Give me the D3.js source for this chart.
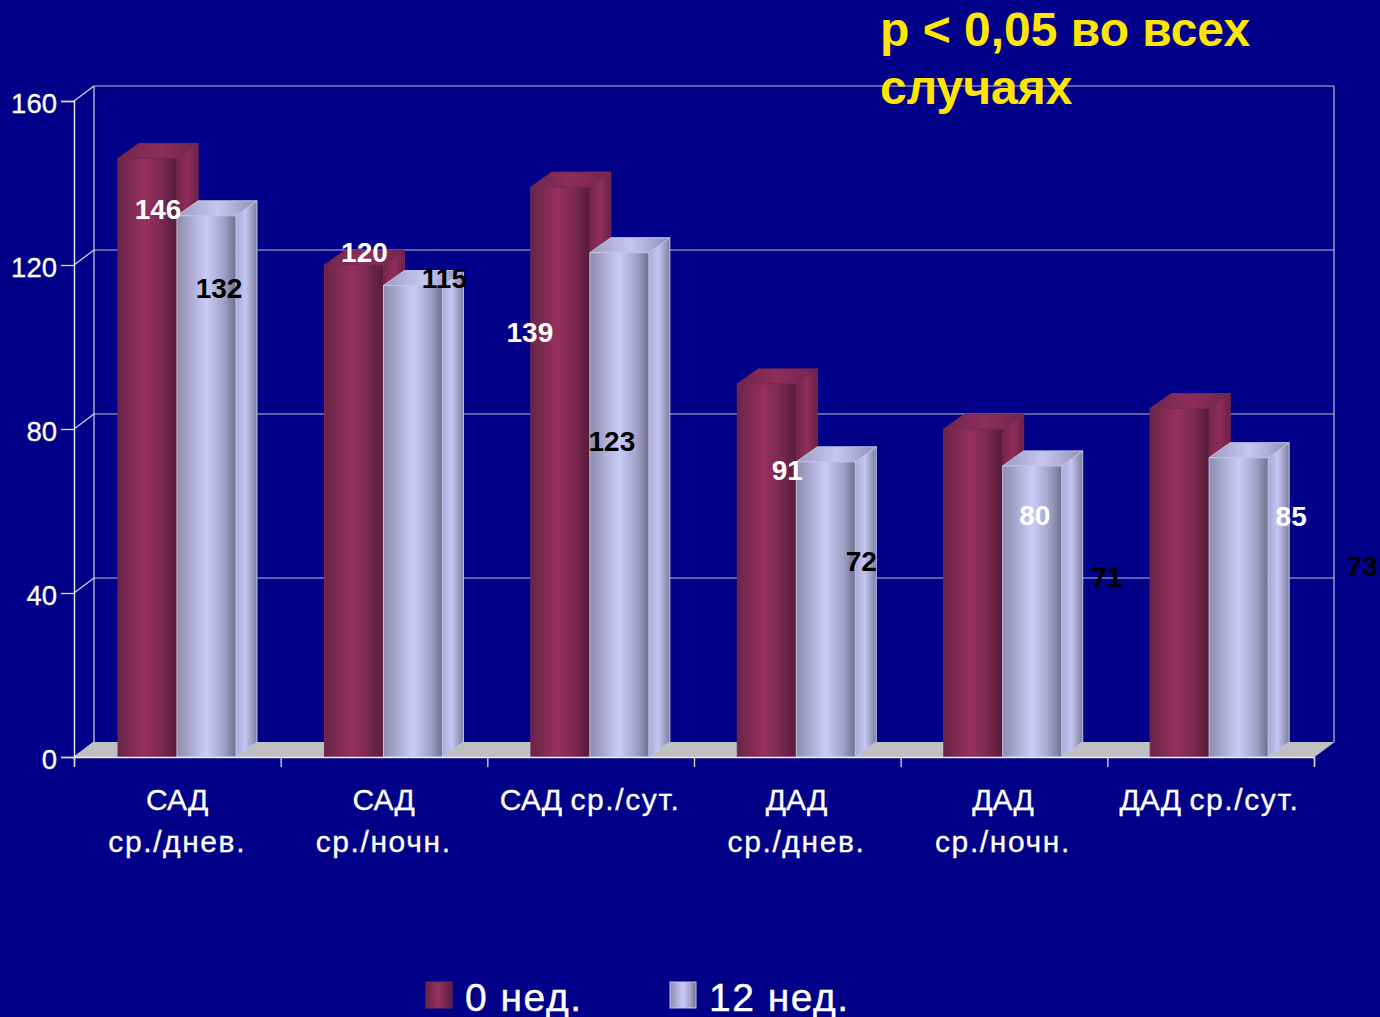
<!DOCTYPE html>
<html>
<head>
<meta charset="utf-8">
<script src="https://cdn.jsdelivr.net/npm/d3@7/dist/d3.min.js"></script>
<style>
  html, body { margin: 0; padding: 0; background: #000088; overflow: hidden; }
  svg { display: block; font-family: "Liberation Sans", Arial, sans-serif; }
</style>
</head>
<body>
<svg id="chart" width="1380" height="1017"></svg>
<script>
// Blood pressure readings at the start of therapy and after 12 weeks
const categories = [
  ["САД", "ср./днев."],
  ["САД", "ср./ночн."],
  ["САД ср./сут."],
  ["ДАД", "ср./днев."],
  ["ДАД", "ср./ночн."],
  ["ДАД ср./сут."]
];
const seriesNames = ["0 нед.", "12 нед."];
const week0 = [146, 120, 139, 91, 80, 85];
const week12 = [132, 115, 123, 72, 71, 73];
const yTicks = [0, 40, 80, 120, 160];
const noteLines = ["р < 0,05 во всех", "случаях"];

// Data labels sit away from their bars: offsets from the bar's top centre
const week0LabelShift = [[10.5, 51], [10.5, -13], [-30.5, 145], [20.5, 86.5], [61.5, 85.5], [111.5, 107.5]];
const week12LabelShift = [[12.5, 72.5], [31.5, -7.5], [-7.5, 188], [35.5, 99.5], [74.5, 111.5], [123.5, 108.5]];

const plotLeft = 74, plotRight = 1314, plotBase = 757, plotTop = 101;
const depthX = 20, depthY = 15;
const barDepthX = 21;
const barWidth = 59;

const svg = d3.select("#chart");
const defs = svg.append("defs");

function hGradient(id, stops) {
  const g = defs.append("linearGradient").attr("id", id)
    .attr("x1", "0%").attr("x2", "100%").attr("y1", "0%").attr("y2", "0%");
  stops.forEach(([o, c]) => g.append("stop").attr("offset", o).attr("stop-color", c));
}
hGradient("maroonFront", [["0", "#672546"], ["0.45", "#97305f"], ["0.72", "#7c2952"], ["1", "#561b3b"]]);
hGradient("maroonSide", [["0", "#742549"], ["0.5", "#902d5b"], ["1", "#6b2047"]]);
hGradient("maroonTop", [["0", "#6f254b"], ["0.5", "#8e2e5b"], ["1", "#70244b"]]);
hGradient("silverFront", [["0", "#8c8cac"], ["0.5", "#cbcbfa"], ["0.8", "#a0a0c6"], ["1", "#6f6f8c"]]);
hGradient("silverSide", [["0", "#a9a9d6"], ["0.45", "#c6c6f4"], ["1", "#7e7e9e"]]);
hGradient("silverTop", [["0", "#9c9cc0"], ["0.5", "#c6c6f2"], ["1", "#9090b2"]]);

const x = d3.scaleBand().domain(d3.range(categories.length)).range([plotLeft, plotLeft + 1238.6]);
const xInner = d3.scaleBand().domain([0, 1]).range([44, 44 + 2 * barWidth]);
const y = d3.scaleLinear().domain([0, 160]).range([plotBase, plotTop]);

const wallColor = "#bcbccc";

// Floor of the 3D box
svg.append("path")
  .attr("d", `M${plotLeft},${plotBase}L${plotLeft + depthX},${plotBase - depthY}L${plotRight + depthX},${plotBase - depthY}L${plotRight},${plotBase}Z`)
  .attr("fill", "#c0c0c0");

const wall = svg.append("g").attr("fill", "none");

// Back wall gridlines and their diagonal return on the side wall
yTicks.forEach(t => {
  if (t > 0) {
    wall.append("line").attr("x1", plotLeft + depthX).attr("x2", plotRight + depthX)
      .attr("y1", y(t) - depthY).attr("y2", y(t) - depthY)
      .attr("stroke", wallColor).attr("stroke-width", 1.2);
  }
  wall.append("line").attr("x1", plotLeft).attr("x2", plotLeft + depthX)
    .attr("y1", y(t)).attr("y2", y(t) - depthY)
    .attr("stroke", t > 0 ? "#d8d8e4" : "#c0c0c0").attr("stroke-width", 1.2);
});
wall.append("line").attr("x1", plotLeft + depthX).attr("x2", plotLeft + depthX)
  .attr("y1", plotTop - depthY).attr("y2", plotBase - depthY).attr("stroke", "#d8d8e4").attr("stroke-width", 1.2);
wall.append("line").attr("x1", plotRight + depthX).attr("x2", plotRight + depthX)
  .attr("y1", plotTop - depthY).attr("y2", plotBase - depthY).attr("stroke", wallColor).attr("stroke-width", 1.2);
wall.append("line").attr("x1", plotRight).attr("x2", plotRight + depthX)
  .attr("y1", plotBase).attr("y2", plotBase - depthY).attr("stroke", "#c0c0c0");

// Bars
function drawBar(group, i, s, value, palette, edge) {
  const x0 = x(i) + xInner(s), x1 = x0 + barWidth;
  const yt = y(value);
  const g = group.append("g").attr("stroke", edge).attr("stroke-width", 1);
  g.append("path")
    .attr("d", `M${x1},${yt}L${x1 + barDepthX},${yt - depthY}L${x1 + barDepthX},${plotBase - depthY}L${x1},${plotBase}Z`)
    .attr("fill", `url(#${palette}Side)`);
  g.append("path")
    .attr("d", `M${x0},${yt}L${x0 + barDepthX},${yt - depthY}L${x1 + barDepthX},${yt - depthY}L${x1},${yt}Z`)
    .attr("fill", `url(#${palette}Top)`);
  g.append("rect").attr("x", x0).attr("y", yt).attr("width", barWidth).attr("height", plotBase - yt)
    .attr("fill", `url(#${palette}Front)`);
}
const bars = svg.append("g");
categories.forEach((c, i) => {
  drawBar(bars, i, 0, week0[i], "maroon", "#7a2a52");
  drawBar(bars, i, 1, week12[i], "silver", "#c4c4ea");
});

// Axes
const yAxis = d3.axisLeft(y).tickValues(yTicks).tickSize(13).tickPadding(4);
const gy = svg.append("g").attr("transform", `translate(${plotLeft},0)`).call(yAxis);
const xAxis = d3.axisBottom(d3.scaleLinear().domain([0, categories.length]).range([plotLeft, plotRight]))
  .ticks(categories.length).tickSize(10).tickFormat("");
const gx = svg.append("g").attr("transform", `translate(0,${plotBase})`).call(xAxis);
[gy, gx].forEach(g => {
  g.selectAll("path").attr("stroke", "#ececf2").attr("stroke-width", 1.4);
  g.selectAll("line").attr("stroke", "#dcdce6").attr("stroke-width", 1.3);
});
gy.selectAll("text").attr("fill", "#fff").attr("font-size", 27.5).attr("dy", "0.42em")
  .attr("stroke", "#fff").attr("stroke-width", 0.3)
  .attr("font-family", "'Liberation Sans', Arial, sans-serif");

// Category labels: capitals are set tight, lowercase runs slightly spaced
categories.forEach((lines, i) => {
  const t = svg.append("text").attr("text-anchor", "middle").attr("fill", "#fff")
    .attr("stroke", "#fff").attr("stroke-width", 0.3).attr("font-size", 30);
  lines.forEach((line, k) => {
    const row = t.append("tspan").attr("x", x(i) + x.bandwidth() / 2).attr("y", 810 + k * 42);
    line.match(/[А-Я]+ ?|[^А-Я]+/g).forEach(part => {
      row.append("tspan").attr("letter-spacing", /[А-Я]/.test(part) ? 0 : 1.6).text(part);
    });
  });
});

// Data labels
function drawLabels(values, shifts, s, color) {
  svg.append("g").selectAll("text").data(values).join("text")
    .attr("x", (d, i) => x(i) + xInner(s) + barWidth / 2 + shifts[i][0])
    .attr("y", (d, i) => y(d) + shifts[i][1] + 10)
    .attr("text-anchor", "middle").attr("font-weight", "bold").attr("font-size", 28)
    .attr("fill", color).text(d => d);
}
drawLabels(week0, week0LabelShift, 0, "#fff");
drawLabels(week12, week12LabelShift, 1, "#000");

// Significance note
svg.append("g").selectAll("text").data(noteLines).join("text")
  .attr("x", 880).attr("y", (d, i) => 46 + i * 58)
  .attr("font-size", 48).attr("font-weight", "bold").attr("fill", "#ffe600").text(d => d);

// Legend
const legendX = [426, 670];
const legend = svg.append("g").selectAll("g").data(seriesNames).join("g")
  .attr("transform", (d, i) => `translate(${legendX[i]},982)`);
legend.append("rect").attr("width", 26).attr("height", 26)
  .attr("fill", (d, i) => `url(#${i ? "silver" : "maroon"}Front)`)
  .attr("stroke", (d, i) => i ? "#c4c4ea" : "#7a2a52");
legend.append("text").attr("x", 39).attr("y", 29).attr("font-size", 39)
  .attr("letter-spacing", 1.5).attr("stroke", "#fff").attr("stroke-width", 0.4)
  .attr("fill", "#fff").text(d => d);
</script>
</body>
</html>
